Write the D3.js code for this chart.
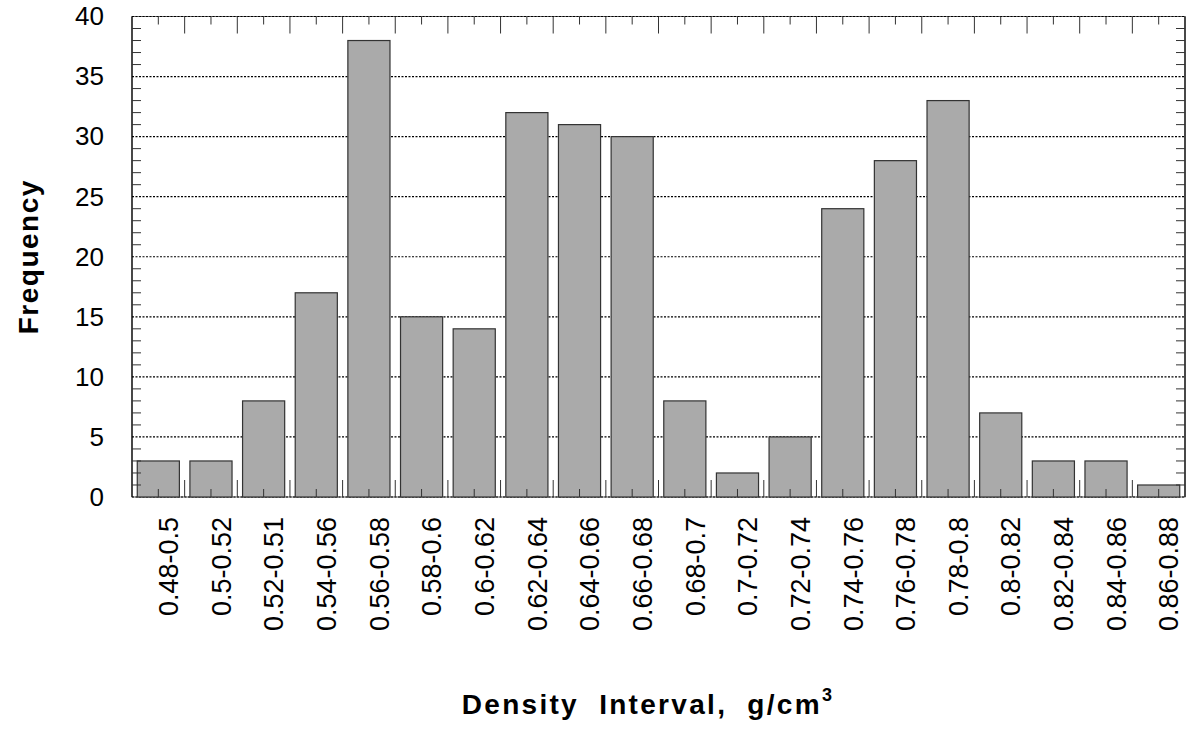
<!DOCTYPE html>
<html>
<head>
<meta charset="utf-8">
<script src="https://cdn.jsdelivr.net/npm/d3@7"></script>
<style>
  body { margin: 0; background: #fff; }
  svg { display: block; font-family: "Liberation Sans", Arial, Helvetica, sans-serif; }
</style>
</head>
<body>
<div id="chart"></div>
<script>
// --- data ---
const intervals = ["0.48-0.5", "0.5-0.52", "0.52-0.51", "0.54-0.56", "0.56-0.58", "0.58-0.6",
  "0.6-0.62", "0.62-0.64", "0.64-0.66", "0.66-0.68", "0.68-0.7", "0.7-0.72", "0.72-0.74",
  "0.74-0.76", "0.76-0.78", "0.78-0.8", "0.8-0.82", "0.82-0.84", "0.84-0.86", "0.86-0.88"];
const frequency = [3, 3, 8, 17, 38, 15, 14, 32, 31, 30, 8, 2, 5, 24, 28, 33, 7, 3, 3, 1];
const yTicks = [0, 5, 10, 15, 20, 25, 30, 35, 40];

const W = 1188, H = 729;
const plot = { left: 132, right: 1185, top: 16.5, bottom: 497 };

const svg = d3.select("#chart").append("svg")
  .attr("width", W)
  .attr("height", H);

const x = d3.scaleBand()
  .domain(intervals)
  .range([plot.left, plot.right])
  .paddingInner(0.2)
  .paddingOuter(0.1);

const y = d3.scaleLinear()
  .domain([0, 40])
  .range([plot.bottom, plot.top]);

// frame (top/bottom grey, dotted overlay added by the grid)
svg.append("rect")
  .attr("x", plot.left).attr("y", plot.top)
  .attr("width", plot.right - plot.left).attr("height", plot.bottom - plot.top)
  .attr("fill", "none").attr("stroke", "#666").attr("stroke-width", 1);

// dotted grid
svg.append("g")
  .selectAll("line")
  .data(yTicks)
  .join("line")
    .attr("x1", plot.left).attr("x2", plot.right)
    .attr("y1", d => y(d)).attr("y2", d => y(d))
    .attr("stroke", "#000")
    .attr("stroke-width", 1.2)
    .attr("stroke-dasharray", "2,1.5");

// left/right edges solid
svg.append("g").selectAll("line")
  .data([plot.left, plot.right])
  .join("line")
    .attr("x1", d => d).attr("x2", d => d)
    .attr("y1", plot.top).attr("y2", plot.bottom)
    .attr("stroke", "#000").attr("stroke-width", 1.2);

// bars
svg.append("g")
  .selectAll("rect")
  .data(intervals.map((k, i) => ({ k, v: frequency[i] })))
  .join("rect")
    .attr("x", d => x(d.k))
    .attr("y", d => y(d.v))
    .attr("width", x.bandwidth())
    .attr("height", d => y(0) - y(d.v))
    .attr("fill", "#aaaaaa")
    .attr("stroke", "#333")
    .attr("stroke-width", 1.2);

// minor y ticks, both sides
const yMinor = d3.range(0, 41).filter(d => d % 5 !== 0);
const ticks = svg.append("g").attr("stroke", "#333").attr("stroke-width", 1);
ticks.selectAll(".yl").data(yMinor).join("line")
  .attr("x1", plot.left).attr("x2", plot.left + 9)
  .attr("y1", d => y(d)).attr("y2", d => y(d));
ticks.selectAll(".yr").data(yMinor).join("line")
  .attr("x1", plot.right).attr("x2", plot.right - 9)
  .attr("y1", d => y(d)).attr("y2", d => y(d));

// x ticks: short at band centres, long at band boundaries
const step = x.step();
const centres = intervals.map(k => x(k) + x.bandwidth() / 2);
const bounds = centres.slice(1).map(c => c - step / 2);
ticks.selectAll(".xcb").data(centres).join("line")
  .attr("x1", d => d).attr("x2", d => d)
  .attr("y1", plot.bottom).attr("y2", plot.bottom - 8);
ticks.selectAll(".xct").data(centres).join("line")
  .attr("x1", d => d).attr("x2", d => d)
  .attr("y1", plot.top).attr("y2", plot.top + 8);
ticks.selectAll(".xbb").data(bounds).join("line")
  .attr("x1", d => d).attr("x2", d => d)
  .attr("y1", plot.bottom).attr("y2", plot.bottom - 17);
ticks.selectAll(".xbt").data(bounds).join("line")
  .attr("x1", d => d).attr("x2", d => d)
  .attr("y1", plot.top).attr("y2", plot.top + 17);

// y tick labels
svg.append("g")
  .attr("transform", `translate(${plot.left},0)`)
  .call(d3.axisLeft(y).tickValues(yTicks).tickSize(0).tickPadding(28))
  .call(ax => ax.select(".domain").remove())
  .call(ax => ax.selectAll("text")
    .attr("font-size", 26)
    .attr("font-family", "'Liberation Sans', Arial, sans-serif")
    .attr("fill", "#000"));

// x tick labels, rotated
svg.append("g")
  .selectAll("text")
  .data(intervals)
  .join("text")
    .attr("transform", d => `translate(${x(d) + x.bandwidth() / 2 + 10},${plot.bottom + 20}) rotate(-90)`)
    .attr("text-anchor", "end")
    .attr("dy", "0.36em")
    .attr("font-size", 27)
    .attr("fill", "#000")
    .text(d => d);

// axis titles
svg.append("text")
  .attr("transform", `translate(28,${(plot.top + plot.bottom) / 2}) rotate(-90)`)
  .attr("text-anchor", "middle")
  .attr("dy", "0.36em")
  .attr("font-size", 28)
  .attr("font-weight", "bold")
  .attr("letter-spacing", 1.5)
  .text("Frequency");

const xt = svg.append("text")
  .attr("x", 648)
  .attr("y", 714)
  .attr("text-anchor", "middle")
  .attr("font-size", 28)
  .attr("font-weight", "bold")
  .attr("letter-spacing", 2.3)
  .attr("xml:space", "preserve")
  .style("white-space", "pre");
xt.append("tspan").text("Density  Interval,  g/cm");
xt.append("tspan").attr("dy", -13).attr("font-size", 18).text("3");
</script>
</body>
</html>
